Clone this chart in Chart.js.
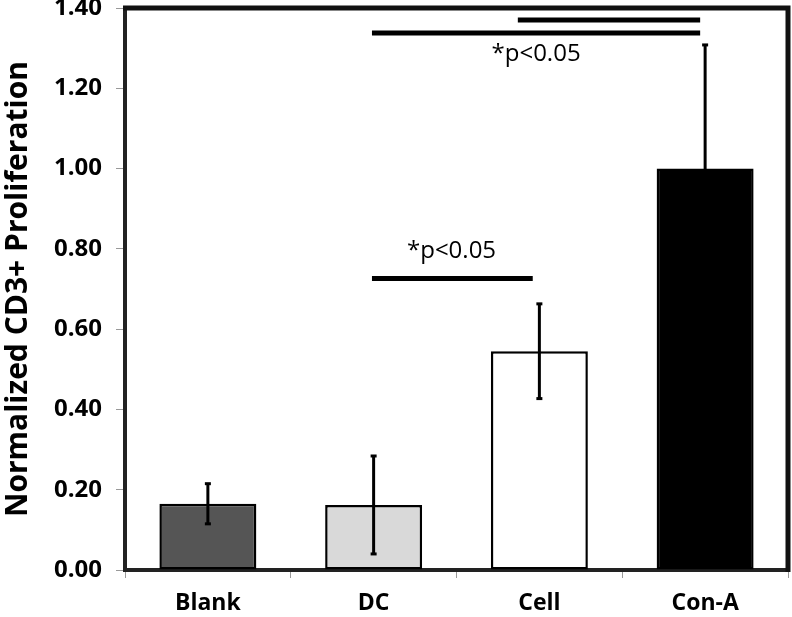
<!DOCTYPE html>
<html>
<head>
<meta charset="utf-8">
<script src="https://cdn.jsdelivr.net/npm/chart.js@4.4.1/dist/chart.umd.min.js"></script>
<style>
  html,body{margin:0;padding:0;background:#fff;}
  #wrap{width:792px;height:617px;}
</style>
</head>
<body>
<div id="wrap"><canvas id="c" width="792" height="617"></canvas></div>
<script>
const categories = ["Blank", "DC", "Cell", "Con-A"];
const means = [0.165, 0.162, 0.545, 1.00];
const errors = [0.05, 0.122, 0.118, 0.308];
const yTicks = [0, 0.2, 0.4, 0.6, 0.8, 1.0, 1.2, 1.4];
const sigLabel = "*p<0.05";

const barColors = ["#555555", "#d9d9d9", "#ffffff", "#000000"];
const FONT = "'Open Sans', 'DejaVu Sans', sans-serif";

const framePlugin = {
  id: "frame",
  afterDatasetsDraw(chart) {
    const ctx = chart.ctx;
    const a = chart.chartArea;
    const x = chart.scales.x, y = chart.scales.y;
    ctx.save();
    const meta = chart.getDatasetMeta(0);
    ctx.strokeStyle = "#000";
    ctx.lineCap = "butt";
    meta.data.forEach((bar, i) => {
      const yt = y.getPixelForValue(means[i] + errors[i]);
      const yb = y.getPixelForValue(means[i] - errors[i]);
      ctx.lineWidth = 3;
      ctx.beginPath(); ctx.moveTo(bar.x, yt); ctx.lineTo(bar.x, yb); ctx.stroke();
      ctx.beginPath(); ctx.moveTo(bar.x - 3, yt); ctx.lineTo(bar.x + 3, yt); ctx.stroke();
      ctx.beginPath(); ctx.moveTo(bar.x - 3, yb); ctx.lineTo(bar.x + 3, yb); ctx.stroke();
    });
    ctx.lineWidth = 5;
    const hline = (i1, i2, v) => {
      const px1 = x.getPixelForValue(i1), px2 = x.getPixelForValue(i2);
      const py = y.getPixelForValue(v);
      ctx.beginPath(); ctx.moveTo(px1, py); ctx.lineTo(px2, py); ctx.stroke();
    };
    hline(0.99, 1.96, 0.726);
    hline(0.99, 2.97, 1.338);
    hline(1.87, 2.97, 1.370);
    ctx.fillStyle = "#000";
    ctx.font = "24px " + FONT;
    ctx.textAlign = "center";
    ctx.textBaseline = "middle";
    ctx.fillText(sigLabel, x.getPixelForValue(1.47), y.getPixelForValue(0.795));
    ctx.fillText(sigLabel, x.getPixelForValue(1.98), y.getPixelForValue(1.285));
    ctx.strokeStyle = "#111";
    ctx.lineWidth = 5;
    ctx.beginPath();
    ctx.moveTo(a.left - 2, a.top);
    ctx.lineTo(a.right, a.top);
    ctx.lineTo(a.right, a.bottom + 2);
    ctx.stroke();
    ctx.restore();
  }
};

new Chart(document.getElementById("c"), {
  type: "bar",
  data: {
    labels: categories,
    datasets: [{
      data: means,
      backgroundColor: barColors,
      borderColor: "#000",
      borderWidth: 2.5,
      borderSkipped: false,
      categoryPercentage: 1.0,
      barPercentage: 0.585
    }]
  },
  options: {
    responsive: false,
    animation: false,
    devicePixelRatio: 1,
    layout: { padding: { top: 8, right: 4, left: 0, bottom: 0 } },
    plugins: { legend: { display: false }, tooltip: { enabled: false } },
    scales: {
      x: {
        offset: true,
        grid: { offset: true, drawOnChartArea: false, drawTicks: true, tickLength: 8, color: "#999", lineWidth: 1 },
        border: { display: true, color: "#222", width: 4 },
        ticks: { color: "#000", font: { family: FONT, size: 23, weight: "bold" }, padding: 12 },
        afterFit(s) { s.height = 47; }
      },
      y: {
        min: 0, max: 1.4,
        afterBuildTicks(s) { s.ticks = yTicks.map(v => ({ value: v })); },
        grid: { drawOnChartArea: false, drawTicks: true, tickLength: 9, color: "#999", lineWidth: 1 },
        border: { display: true, color: "#222", width: 4 },
        ticks: {
          color: "#000", padding: 14,
          font: { family: FONT, size: 24, weight: "bold" },
          callback: v => Number(v).toFixed(2)
        },
        title: {
          display: true, text: "Normalized CD3+ Proliferation", color: "#000",
          font: { family: FONT, size: 30, weight: "bold" }, padding: { top: 0, bottom: 0 }
        },
        afterFit(s) { s.width = 125; s.paddingTop = 0; s.paddingBottom = 0; }
      }
    }
  },
  plugins: [framePlugin]
});
</script>
</body>
</html>
